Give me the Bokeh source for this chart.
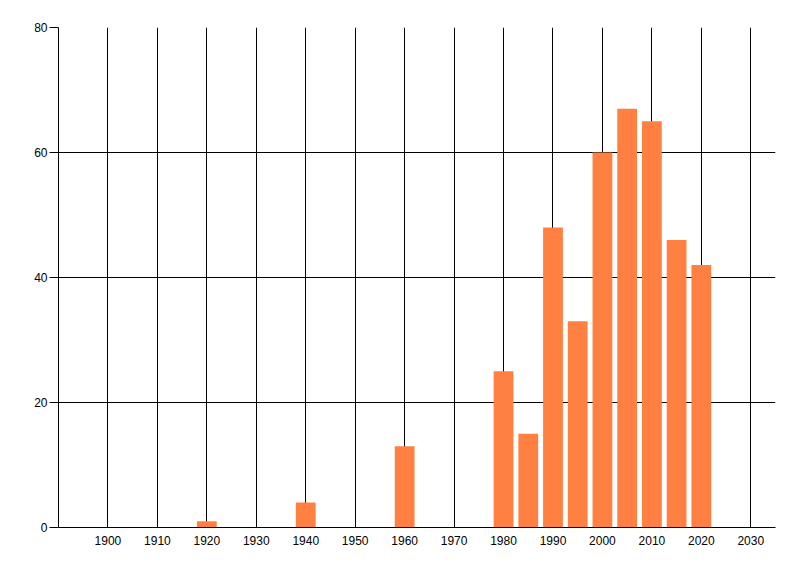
from bokeh.plotting import figure
from bokeh.models import FixedTicker, Range1d
from bokeh.embed import file_html
from bokeh.resources import INLINE

# datos del grafico
years = [1920, 1940, 1960, 1980, 1985, 1990, 1995, 2000, 2005, 2010, 2015, 2020]
counts = [1, 4, 13, 25, 15, 48, 33, 60, 67, 65, 46, 42]
x_ticks = list(range(1890, 2031, 10))
y_ticks = [0, 20, 40, 60, 80]

p = figure(frame_width=717, frame_height=500, min_border_left=58, min_border_top=27,
           min_border_right=10, min_border_bottom=30,
           x_range=Range1d(1890, 2035), y_range=Range1d(0, 80),
           output_backend="svg", toolbar_location=None)

p.vbar(x=years, top=counts, width=4, bottom=0, fill_color="#FF8040", line_color=None)

p.outline_line_color = None
p.background_fill_color = "white"

# ejes
p.xaxis.ticker = FixedTicker(ticks=x_ticks)
p.xaxis.major_label_overrides = {1890: ""}
p.xaxis.major_tick_out = 0
p.xaxis.major_tick_in = 0
p.xaxis.minor_tick_line_color = None
p.xaxis.major_label_standoff = 8
p.yaxis.ticker = FixedTicker(ticks=y_ticks)
p.yaxis.major_tick_out = 9
p.yaxis.major_tick_in = 0
p.yaxis.minor_tick_line_color = None
p.yaxis.major_label_standoff = 2

for ax in [p.xaxis, p.yaxis]:
    ax.axis_line_color = "black"
    ax.major_tick_line_color = "black"
    ax.major_label_text_font = "Liberation Sans"
    ax.major_label_text_font_size = "12px"
    ax.major_label_text_color = "black"

# rejilla negra
p.xgrid.ticker = FixedTicker(ticks=x_ticks)
p.ygrid.ticker = FixedTicker(ticks=y_ticks)
p.grid.grid_line_color = "black"
p.grid.grid_line_alpha = 1.0
p.grid.grid_line_width = 1

open("out.html", "w").write(file_html(p, INLINE))
